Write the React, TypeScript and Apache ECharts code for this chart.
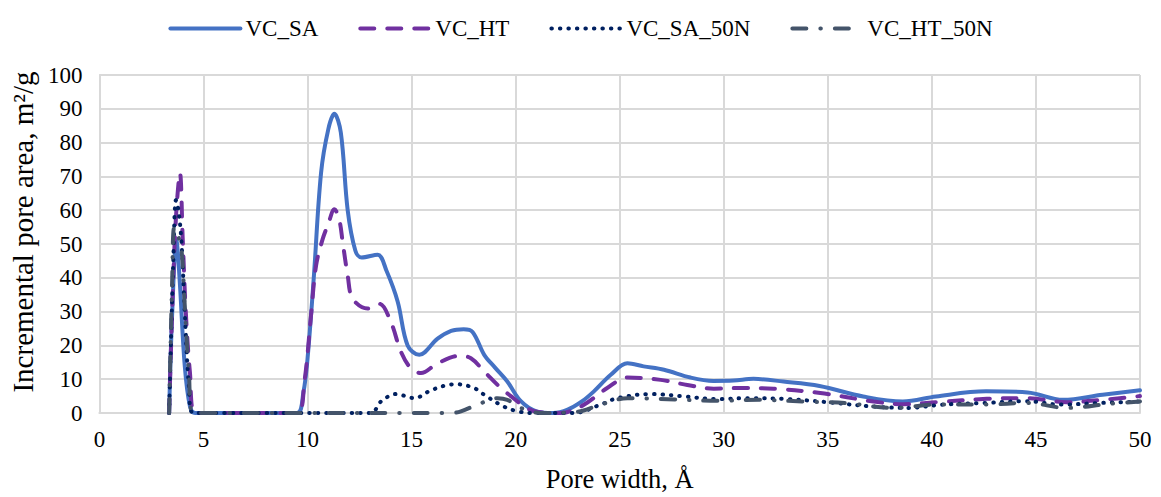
import React, { useEffect, useRef } from "react";
import * as echarts from "echarts";

// Pore width (Å) / incremental pore area (m²/g) pairs for each sample
const vcSA: [number, number][] = [
  [3.35, 0], [3.5, 30], [3.7, 51], [3.85, 40], [4.1, 14], [4.35, 2], [4.6, 0], [6, 0], [8, 0],
  [9.5, 0], [9.8, 6], [10.0, 16], [10.3, 40], [10.65, 71], [11.0, 84], [11.29, 88.5], [11.6, 83],
  [11.93, 60], [12.3, 48], [12.6, 46], [13.37, 46.8], [13.8, 42], [14.33, 33], [14.81, 20],
  [15.37, 17.2], [16.25, 22], [16.9, 24.3], [17.5, 24.8], [17.93, 24], [18.49, 17.2], [19.0, 13.5],
  [19.6, 9.3], [20.25, 3.5], [21.0, 0.5], [21.8, 0], [22.5, 1], [23.2, 3.5], [23.76, 6.4],
  [24.57, 11.3], [25.37, 14.7], [26.15, 13.8], [27.13, 12.8], [28.4, 10.5], [29.5, 9.5],
  [30.47, 9.6], [31.43, 10.1], [32.87, 9.3], [34.6, 8.0], [36.7, 4.9], [38.6, 3.4], [40.2, 4.9],
  [42.6, 6.4], [44.6, 6.1], [46.3, 3.9], [48.2, 5.4], [50, 6.7],
];

const vcHT: [number, number][] = [
  [3.35, 0], [3.55, 40], [3.7, 60], [3.87, 71], [4.0, 52], [4.15, 30], [4.35, 12], [4.6, 0],
  [6, 0], [8, 0], [9.5, 0], [9.85, 9.3], [10.17, 29], [10.41, 43.6], [10.73, 51.5], [11.0, 56],
  [11.29, 60.3], [11.53, 57], [11.69, 50.5], [11.93, 40.7], [12.17, 33.8], [12.89, 30.9],
  [13.45, 32.3], [14.0, 27], [14.49, 18.1], [14.97, 13.2], [15.45, 11.8], [16.25, 14.7],
  [17.29, 16.9], [17.85, 16.2], [18.49, 12.3], [19.29, 7.4], [19.77, 5.0], [20.4, 2], [20.9, 0.5],
  [22.0, 0], [22.5, 0.3], [23.3, 2.5], [24.4, 7.4], [25.37, 10.5], [26.97, 9.8], [28.25, 8.3],
  [29.52, 7.2], [30.8, 7.4], [32.4, 7.2], [34.64, 5.9], [37.2, 3.4], [38.64, 2.6], [40.24, 3.2],
  [42.64, 4.2], [44.56, 4.4], [46.48, 3.2], [48.2, 3.9], [50, 5.0],
];

const vcSA50N: [number, number][] = [
  [3.35, 0], [3.55, 45], [3.68, 63], [3.8, 60], [3.95, 50], [4.1, 30], [4.3, 8], [4.5, 0],
  [6, 0], [9, 0], [13.05, 0], [13.53, 3.4], [14.25, 5.6], [15.13, 4.4], [15.93, 6.7],
  [16.73, 8.3], [17.2, 8.5], [18.0, 7.4], [18.49, 5.4], [19.4, 2], [20.09, 0.5], [20.9, 0],
  [22.8, 0], [24.09, 2.5], [24.89, 4.4], [26.5, 5.6], [28.1, 4.9], [29.68, 4.1], [31.1, 4.4],
  [32.87, 4.2], [34.8, 3.3], [37.0, 2], [38.8, 1.5], [40.56, 2.5], [42.64, 3.0], [44.56, 3.5],
  [46.16, 2.5], [48.2, 3.0], [50, 3.4],
];

const vcHT50N: [number, number][] = [
  [3.35, 0], [3.5, 40], [3.6, 55], [3.8, 52], [3.95, 48], [4.1, 32], [4.3, 12], [4.5, 0],
  [6, 0], [10, 0], [16.9, 0], [17.37, 0.5], [18.33, 2.9], [19.13, 4.4], [19.6, 3.9],
  [20.25, 1.5], [21.2, 0], [22.9, 0.3], [24.09, 2.5], [25.37, 4.4], [27.3, 4.1], [29.68, 3.6],
  [31.7, 3.9], [33.8, 3.4], [35.9, 2.9], [38.16, 1.5], [40.24, 2.5], [42.64, 2.5], [44.56, 3.0],
  [46.48, 1.5], [48.5, 2.7], [50, 3.4],
];

const seriesNames = ["VC_SA", "VC_HT", "VC_SA_50N", "VC_HT_50N"];

const FONT = "'Liberation Serif', 'Times New Roman', serif";
const GRID_COLOR = "#d9d9d9";
const LINE_WIDTH = 4;

export default function App() {
  const ref = useRef<HTMLDivElement>(null);

  useEffect(() => {
    if (!ref.current) return;
    const chart = echarts.init(ref.current, null, { renderer: "svg" });

    const line = (
      name: string,
      data: [number, number][],
      color: string,
      type: any,
      cap: "butt" | "round" = "round"
    ) => ({
      name,
      type: "line",
      data,
      smooth: 0.35,
      symbol: "none",
      lineStyle: { color, width: LINE_WIDTH, type, cap },
      itemStyle: { color },
    });

    chart.setOption({
      animation: false,
      textStyle: { fontFamily: FONT, color: "#000" },
      legend: {
        top: 12,
        left: "center",
        itemWidth: 70,
        itemHeight: 14,
        itemGap: 40,
        itemStyle: { opacity: 0 },
        lineStyle: { width: LINE_WIDTH },
        textStyle: { fontFamily: FONT, fontSize: 23, color: "#000" },
        data: seriesNames,
      },
      grid: { left: 98, right: 21, top: 75, bottom: 82 },
      xAxis: {
        type: "value",
        min: 0,
        max: 50,
        interval: 5,
        name: "Pore width, Å",
        nameLocation: "middle",
        nameGap: 52,
        nameTextStyle: { fontFamily: FONT, fontSize: 26.5, color: "#000" },
        axisLine: { show: true, lineStyle: { color: GRID_COLOR, width: 2 } },
        axisTick: { show: false },
        axisLabel: { fontFamily: FONT, fontSize: 23, color: "#000", margin: 15 },
        splitLine: { show: true, lineStyle: { color: GRID_COLOR, width: 2 } },
      },
      yAxis: {
        type: "value",
        min: 0,
        max: 100,
        interval: 10,
        name: "Incremental pore area, m²/g",
        nameLocation: "middle",
        nameGap: 60,
        nameTextStyle: {
          fontFamily: FONT,
          fontSize: 29,
          color: "#000",
          padding: [0, 0, 0, 24],
        },
        axisLine: { show: true, lineStyle: { color: GRID_COLOR, width: 2 } },
        axisTick: { show: false },
        axisLabel: { fontFamily: FONT, fontSize: 23, color: "#000", margin: 17 },
        splitLine: { show: true, lineStyle: { color: GRID_COLOR, width: 2 } },
      },
      series: [
        line(seriesNames[0], vcSA, "#4472C4", "solid"),
        line(seriesNames[1], vcHT, "#7030A0", [14, 13]),
        line(seriesNames[2], vcSA50N, "#002060", [0.5, 8]),
        line(seriesNames[3], vcHT50N, "#44546A", [14, 14, 0.5, 14]),
      ],
    });

    return () => chart.dispose();
  }, []);

  return (
    <div
      ref={ref}
      style={{ position: "fixed", left: 0, top: 0, width: 1161, height: 497, background: "#fff" }}
    />
  );
}
